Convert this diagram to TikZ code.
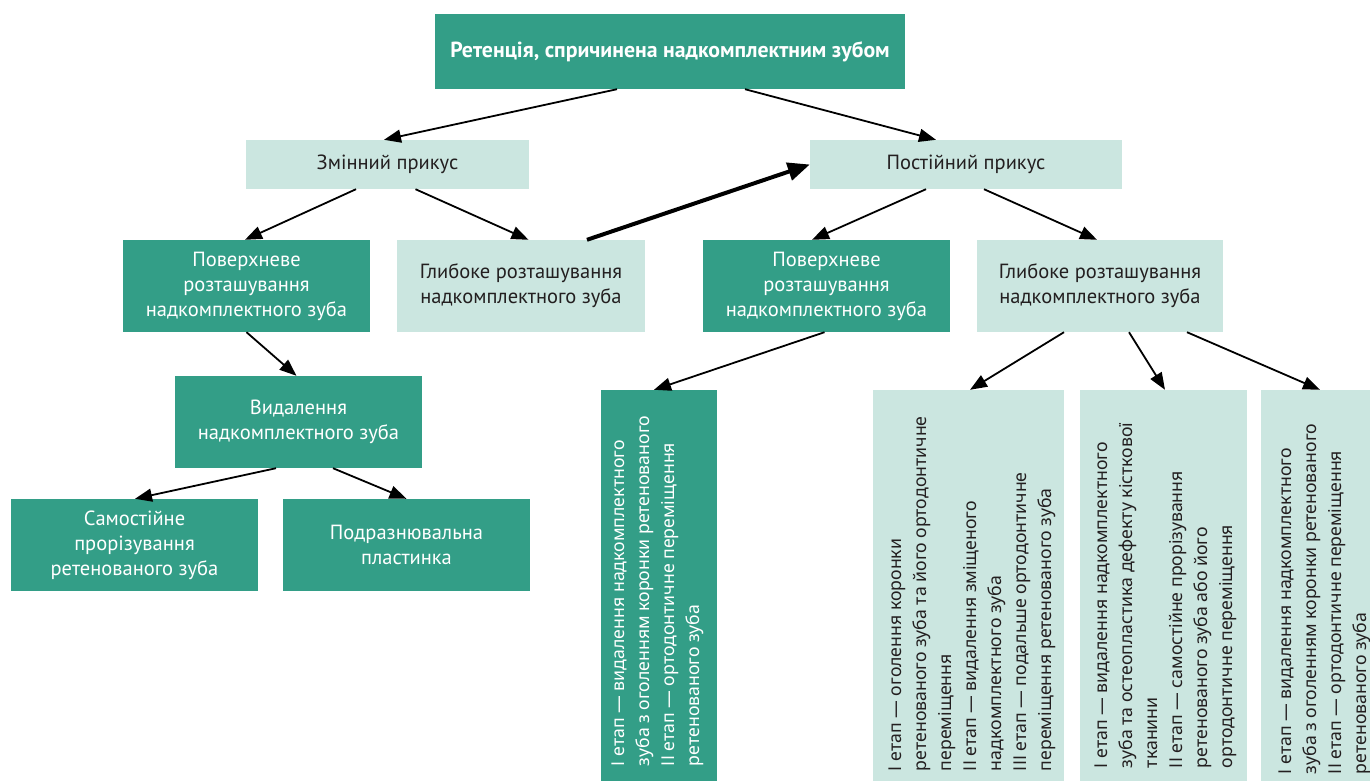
\documentclass[tikz,border=0pt]{standalone}
\usepackage{fontspec}
\setmainfont{PT Sans}
\newfontfamily\vfam{Noto Sans}
\usetikzlibrary{arrows.meta}
\definecolor{dk}{HTML}{339E87}
\definecolor{lt}{HTML}{CBE6E0}
\definecolor{tx}{HTML}{231F20}
\tikzset{
  box/.style={rectangle, inner sep=0pt, align=center, font=\fontsize{20.5}{25}\selectfont},
  dbox/.style={box, fill=dk, text=white},
  lbox/.style={box, fill=lt, text=tx},
  vt/.style={rotate=90, inner sep=0pt, align=left, font=\vfam\fontsize{17.7}{25}\selectfont},
  arr/.style={line width=1.8pt, -{Triangle[length=17pt,width=13pt]}},
  thk/.style={line width=4pt, -{Triangle[length=22pt,width=18pt]}}
}
\begin{document}
\begin{tikzpicture}[x=1pt,y=-1pt]
\useasboundingbox (0,0) rectangle (1370,781);
% boxes
\node[dbox, minimum width=470pt, minimum height=75pt, font=\bfseries\fontsize{21.8}{26}\selectfont] (top) at (670,51.5) {Ретенція, спричинена надкомплектним зубом};
\node[lbox, minimum width=283pt, minimum height=49pt] (zm) at (387.5,164.5) {Змінний прикус};
\node[lbox, minimum width=312pt, minimum height=49pt] (pz) at (966,164.5) {Постійний прикус};
\node[dbox, minimum width=247pt, minimum height=92pt] (povL) at (246.5,286) {Поверхневе\\розташування\\надкомплектного зуба};
\node[lbox, minimum width=248pt, minimum height=92pt] (glL) at (521,286) {Глибоке розташування\\надкомплектного зуба};
\node[dbox, minimum width=247pt, minimum height=92pt] (povR) at (826.5,286) {Поверхневе\\розташування\\надкомплектного зуба};
\node[lbox, minimum width=246pt, minimum height=92pt] (glR) at (1100,286) {Глибоке розташування\\надкомплектного зуба};
\node[dbox, minimum width=247pt, minimum height=92pt] (vid) at (298.5,422) {Видалення\\надкомплектного зуба};
\node[dbox, minimum width=247pt, minimum height=92pt] (sam) at (134.5,545) {Самостійне\\прорізування\\ретенованого зуба};
\node[dbox, minimum width=247pt, minimum height=92pt] (pod) at (406.5,545) {Подразнювальна\\пластинка};
\node[dbox, minimum width=116pt, minimum height=391pt] (v1) at (659,585.5) {};
\node[lbox, minimum width=191pt, minimum height=391pt] (v2) at (968.5,585.5) {};
\node[lbox, minimum width=167pt, minimum height=391pt] (v3) at (1163.5,585.5) {};
\node[lbox, minimum width=109pt, minimum height=391pt] (v4) at (1315.5,585.5) {};
% vertical texts
\node[vt, text=white, anchor=north west] (v1t) at ([xshift=11pt,yshift=15pt]v1.south west) {І етап — видалення надкомплектного\\зуба з оголенням коронки ретенованого\\ІІ етап — ортодонтичне переміщення\\ретенованого зуба};
\node[vt, text=tx, anchor=north west] (v2t) at ([xshift=16pt,yshift=10pt]v2.south west) {І етап — оголення коронки\\ретенованого зуба та його ортодонтичне\\переміщення\\ІІ етап — видалення зміщеного\\надкомплектного зуба\\ІІІ етап — подальше ортодонтичне\\переміщення ретенованого зуба};
\node[vt, text=tx, anchor=north west] (v3t) at ([xshift=14.5pt,yshift=13pt]v3.south west) {І етап — видалення надкомплектного\\зуба та остеопластика дефекту кісткової\\тканини\\ІІ етап — самостійне прорізування\\ретенованого зуба або його\\ортодонтичне переміщення};
\node[vt, text=tx, anchor=north west] (v4t) at ([xshift=17.5pt,yshift=7pt]v4.south west) {І етап — видалення надкомплектного\\зуба з оголенням коронки ретенованого\\ІІ етап — ортодонтичне переміщення\\ретенованого зуба};
% connectors
\draw[arr] ([xshift=-53pt]top.south) -- ([xshift=-3.5pt]zm.north);
\draw[arr] ([xshift=75pt]top.south) -- ([xshift=-30pt]pz.north);
\draw[arr] ([xshift=-31.5pt]zm.south) -- ([xshift=-1.5pt]povL.north);
\draw[arr] ([xshift=28pt]zm.south) -- ([xshift=7.5pt]glL.north);
\draw[thk] ([xshift=66pt]glL.north) -- (pz.west);
\draw[arr] ([xshift=-40pt]pz.south) -- ([xshift=-14.5pt]povR.north);
\draw[arr] ([xshift=18pt]pz.south) -- ([xshift=-3pt]glR.north);
\draw[arr] (povL.south) -- ([xshift=-2pt]vid.north);
\draw[arr] ([xshift=-22.5pt]vid.south) -- ([xshift=0.5pt]sam.north);
\draw[arr] ([xshift=34.5pt]vid.south) -- (pod.north);
\draw[arr] ([xshift=-2pt]povR.south) -- ([xshift=-5pt]v1.north);
\draw[arr] ([xshift=-36pt]glR.south) -- ([xshift=1.5pt]v2.north);
\draw[arr] ([xshift=29pt]glR.south) -- ([xshift=1.5pt]v3.north);
\draw[arr] ([xshift=87pt]glR.south) -- ([xshift=4.5pt]v4.north);
\end{tikzpicture}
\end{document}
